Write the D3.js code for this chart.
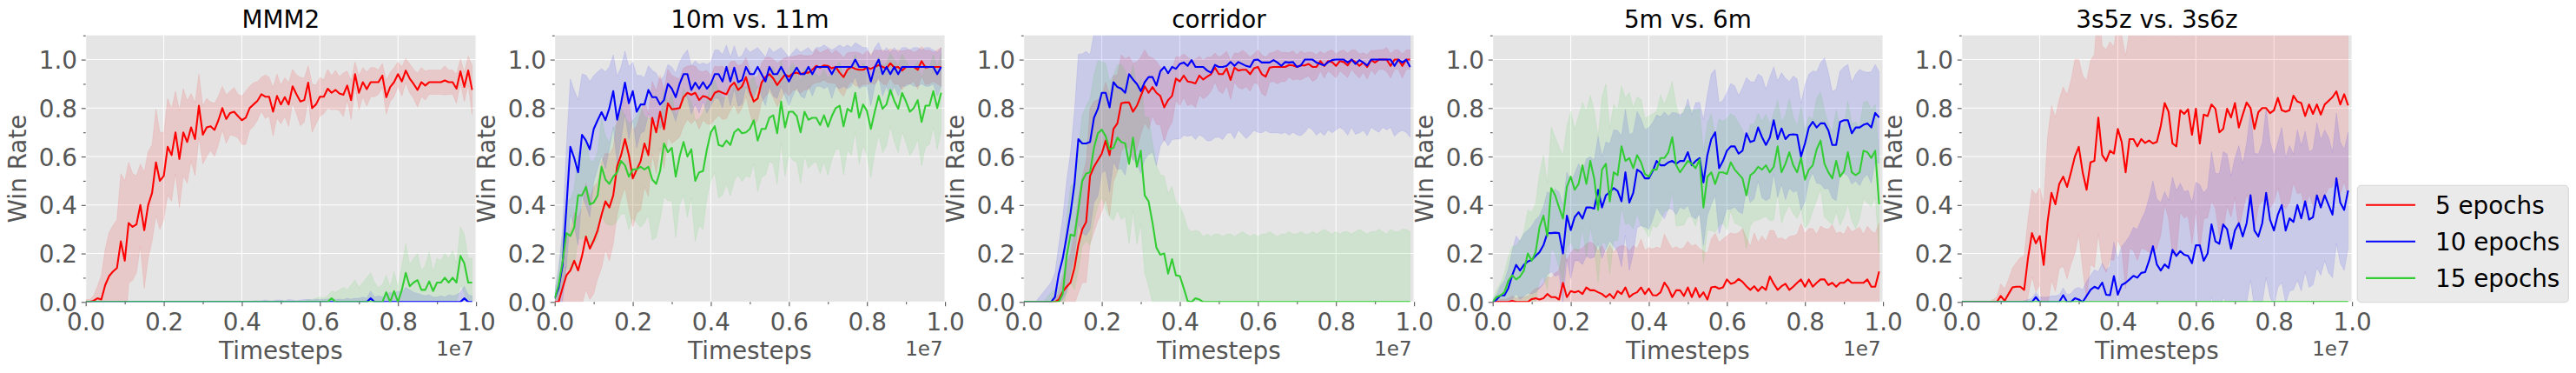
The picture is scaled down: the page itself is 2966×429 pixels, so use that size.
<!DOCTYPE html>
<html><head><meta charset="utf-8">
<script src="https://cdn.jsdelivr.net/npm/d3@7"></script>
<style>body{margin:0;background:#fff;}svg text{font-family:"DejaVu Sans";}</style>
</head><body>
<svg id="chart" width="2966" height="429"></svg>
<script>
// ---------------- data ----------------
const titles = ["MMM2", "10m vs. 11m", "corridor", "5m vs. 6m", "3s5z vs. 3s6z"];
const seriesNames = ["5 epochs", "10 epochs", "15 epochs"];
const seriesColors = ["#ff0000", "#0000ff", "#32cd32"];
const xMajorTicks = [0, 2e6, 4e6, 6e6, 8e6, 1e7];
const xMinorTicks = [1e6, 3e6, 5e6, 7e6, 9e6];
const yMajorTicks = [0, 0.2, 0.4, 0.6, 0.8, 1.0];
const yMinorTicks = [0.1, 0.3, 0.5, 0.7, 0.9, 1.1];
const LOG_INTERVAL = 1e5;            // one evaluation every 100k timesteps
const timesteps = d3.range(100).map(i => i * LOG_INTERVAL);

// MMM2
const mmm2_r_mean = [0,0,0.005,0.015,0.01,0.07,0.107,0.126,0.14,0.25,
0.17,0.326,0.31,0.32,0.40,0.296,0.40,0.45,0.576,0.50,
0.52,0.64,0.606,0.70,0.59,0.70,0.66,0.72,0.672,0.81,
0.69,0.72,0.725,0.71,0.75,0.80,0.755,0.78,0.785,0.767,
0.75,0.76,0.80,0.815,0.83,0.857,0.847,0.847,0.785,0.85,
0.815,0.845,0.815,0.89,0.857,0.827,0.833,0.905,0.80,0.815,
0.847,0.847,0.88,0.863,0.875,0.86,0.855,0.893,0.833,0.94,
0.863,0.907,0.878,0.907,0.907,0.907,0.934,0.845,0.887,0.907,
0.94,0.91,0.955,0.922,0.9,0.875,0.907,0.893,0.907,0.907,
0.907,0.907,0.914,0.907,0.907,0.88,0.952,0.887,0.955,0.875];
const mmm2_r_std = [0.01,0.01,0.02,0.05,0.1,0.15,0.18,0.19,0.2,0.28,
0.33,0.25,0.22,0.2,0.17,0.24,0.22,0.2,0.22,0.2,
0.18,0.2,0.19,0.17,0.2,0.18,0.17,0.14,0.15,0.13,
0.12,0.12,0.1,0.11,0.1,0.09,0.1,0.09,0.1,0.09,
0.1,0.11,0.09,0.09,0.08,0.07,0.09,0.08,0.1,0.09,
0.08,0.08,0.09,0.07,0.08,0.1,0.09,0.07,0.1,0.08,
0.08,0.07,0.08,0.07,0.08,0.07,0.09,0.06,0.08,0.05,
0.07,0.06,0.07,0.06,0.06,0.05,0.05,0.07,0.06,0.06,
0.05,0.06,0.05,0.06,0.06,0.07,0.06,0.06,0.05,0.05,
0.05,0.05,0.06,0.05,0.05,0.06,0.05,0.06,0.06,0.1];
const mmm2_b_mean = [0,0,0,0,0,0,0,0,0,0,
0,0,0,0,0,0,0,0,0,0,
0,0,0,0,0,0,0,0,0,0,
0,0,0,0,0,0,0,0,0,0,
0,0,0,0,0,0,0,0,0,0,
0,0,0,0,0,0,0,0,0,0,
0,0,0,0,0,0,0,0,0,0,
0,0,0,0.015,0,0,0,0,0,0,
0,0,0,0,0,0,0,0,0,0,
0,0,0,0,0,0,0,0.015,0,0];
const mmm2_b_std = [0,0,0,0,0,0,0,0,0,0,
0,0,0,0,0,0,0,0,0,0,
0,0,0,0,0,0,0,0,0,0,
0,0,0,0,0,0,0,0,0,0,
0,0,0,0.005,0.005,0.005,0.008,0.005,0.005,0.008,
0.008,0.005,0.01,0.008,0.005,0.008,0.01,0.01,0.008,0.01,
0.01,0.01,0.012,0.015,0.01,0.012,0.01,0.015,0.012,0.015,
0.015,0.02,0.015,0.03,0.02,0.025,0.02,0.03,0.04,0.035,
0.045,0.04,0.06,0.05,0.04,0.035,0.03,0.025,0.03,0.02,
0.02,0.025,0.02,0.03,0.025,0.03,0.04,0.05,0.03,0.025];
const mmm2_g_mean = [0,0,0,0,0,0,0,0,0,0,
0,0,0,0,0,0,0,0,0,0,
0,0,0,0,0,0,0,0,0,0,
0,0,0,0,0,0,0,0,0,0,
0,0,0,0,0,0,0,0,0,0,
0,0,0,0,0,0,0,0,0,0,
0,0,0,0.015,0,0,0,0,0,0,
0,0,0,0,0,0,0,0.04,0,0.045,
0,0.05,0.12,0.065,0.08,0.09,0.05,0.05,0.085,0.045,
0.08,0.08,0.10,0.08,0.10,0.08,0.19,0.16,0.08,0.08];
const mmm2_g_std = [0,0,0,0,0,0,0,0,0,0,
0,0,0,0,0,0,0,0,0,0,
0,0,0,0,0,0,0,0,0,0,
0,0,0,0,0,0,0,0,0,0,
0,0,0,0,0,0,0,0,0,0,
0,0,0,0,0,0,0.005,0.01,0.01,0.015,
0.02,0.015,0.025,0.03,0.04,0.05,0.06,0.05,0.07,0.09,
0.06,0.08,0.1,0.12,0.08,0.06,0.07,0.07,0.06,0.08,
0.06,0.1,0.12,0.09,0.1,0.11,0.08,0.1,0.12,0.08,
0.1,0.09,0.1,0.1,0.11,0.08,0.12,0.12,0.1,0.1];

// 10m vs. 11m
const m10_r_mean = [0,0,0.057,0.11,0.13,0.17,0.13,0.19,0.27,0.22,
0.254,0.296,0.36,0.415,0.39,0.44,0.56,0.606,0.672,0.606,
0.51,0.546,0.58,0.654,0.606,0.76,0.70,0.785,0.713,0.82,
0.795,0.797,0.80,0.845,0.863,0.855,0.863,0.833,0.85,0.845,
0.833,0.863,0.87,0.863,0.857,0.89,0.905,0.875,0.89,0.928,
0.87,0.827,0.84,0.905,0.928,0.94,0.922,0.895,0.917,0.938,
0.93,0.943,0.946,0.94,0.946,0.946,0.958,0.974,0.967,0.976,
0.974,0.964,0.97,0.946,0.928,0.958,0.97,0.962,0.958,0.958,
0.967,0.962,0.97,0.978,0.97,0.964,0.985,0.967,0.97,0.955,
0.97,0.97,0.97,0.958,0.994,0.967,0.97,0.97,0.97,0.97];
const m10_r_std = [0.01,0.04,0.1,0.14,0.17,0.2,0.22,0.2,0.22,0.21,
0.22,0.2,0.22,0.2,0.22,0.2,0.2,0.18,0.2,0.22,
0.2,0.18,0.2,0.18,0.17,0.15,0.17,0.15,0.16,0.14,
0.14,0.13,0.12,0.12,0.11,0.12,0.11,0.12,0.1,0.11,
0.1,0.11,0.1,0.11,0.1,0.1,0.09,0.1,0.09,0.08,
0.09,0.1,0.09,0.08,0.08,0.07,0.08,0.09,0.08,0.07,
0.08,0.07,0.07,0.08,0.07,0.07,0.06,0.07,0.06,0.06,
0.07,0.06,0.07,0.08,0.08,0.07,0.06,0.07,0.07,0.06,
0.07,0.06,0.07,0.06,0.07,0.07,0.06,0.07,0.07,0.08,
0.07,0.07,0.06,0.08,0.06,0.07,0.07,0.06,0.07,0.08];
const m10_b_mean = [0.015,0.057,0.15,0.39,0.64,0.594,0.535,0.69,0.666,0.63,
0.714,0.75,0.783,0.75,0.80,0.87,0.752,0.82,0.905,0.82,
0.87,0.785,0.815,0.815,0.875,0.845,0.845,0.815,0.833,0.90,
0.88,0.845,0.90,0.94,0.94,0.875,0.905,0.88,0.907,0.88,
0.90,0.94,0.94,0.91,0.97,0.91,0.967,0.907,0.916,0.97,
0.94,0.94,0.97,0.94,0.91,0.97,0.94,0.94,0.97,0.94,
0.91,0.94,0.967,0.94,0.94,0.97,0.94,0.97,0.97,0.97,
0.97,0.94,0.97,0.97,0.97,0.97,0.97,1.0,0.97,0.97,
0.97,0.91,0.97,1.0,0.94,0.97,0.94,0.97,0.94,0.97,
0.97,0.97,0.97,0.97,0.97,0.97,0.97,0.97,0.94,0.97];
const m10_b_std = [0.03,0.08,0.15,0.25,0.28,0.28,0.3,0.25,0.27,0.28,
0.22,0.2,0.18,0.2,0.17,0.15,0.18,0.15,0.13,0.15,
0.12,0.15,0.12,0.11,0.1,0.11,0.1,0.1,0.1,0.08,
0.09,0.1,0.09,0.08,0.1,0.1,0.09,0.1,0.08,0.1,
0.09,0.1,0.1,0.11,0.09,0.1,0.09,0.1,0.1,0.08,
0.09,0.1,0.08,0.09,0.1,0.08,0.09,0.1,0.08,0.09,
0.1,0.09,0.08,0.09,0.1,0.08,0.09,0.08,0.08,0.09,
0.08,0.1,0.08,0.09,0.08,0.09,0.08,0.07,0.09,0.08,
0.08,0.1,0.08,0.07,0.09,0.08,0.09,0.08,0.09,0.08,
0.08,0.07,0.08,0.08,0.07,0.08,0.08,0.07,0.09,0.08];
const m10_g_mean = [0.015,0.07,0.165,0.284,0.272,0.308,0.44,0.44,0.475,0.403,
0.41,0.44,0.558,0.505,0.487,0.517,0.535,0.582,0.564,0.517,
0.547,0.547,0.558,0.547,0.558,0.505,0.487,0.54,0.654,0.618,
0.636,0.517,0.60,0.66,0.60,0.63,0.50,0.535,0.54,0.63,
0.70,0.725,0.648,0.642,0.666,0.648,0.70,0.714,0.696,0.70,
0.714,0.75,0.666,0.714,0.714,0.76,0.77,0.696,0.827,0.72,
0.785,0.785,0.767,0.70,0.785,0.752,0.76,0.76,0.73,0.77,
0.723,0.767,0.80,0.81,0.725,0.797,0.785,0.863,0.76,0.815,
0.788,0.714,0.785,0.85,0.797,0.815,0.875,0.83,0.797,0.863,
0.827,0.785,0.80,0.833,0.743,0.81,0.81,0.87,0.80,0.863];
const m10_g_std = [0.02,0.06,0.1,0.14,0.15,0.16,0.18,0.18,0.2,0.18,
0.17,0.18,0.2,0.18,0.17,0.2,0.2,0.22,0.2,0.22,
0.2,0.22,0.25,0.22,0.2,0.25,0.22,0.2,0.22,0.2,
0.22,0.25,0.2,0.22,0.25,0.2,0.25,0.22,0.24,0.2,
0.2,0.19,0.22,0.2,0.18,0.21,0.2,0.19,0.2,0.18,
0.2,0.18,0.21,0.2,0.19,0.18,0.2,0.21,0.17,0.2,
0.18,0.2,0.19,0.21,0.18,0.2,0.19,0.18,0.2,0.19,
0.2,0.18,0.17,0.18,0.2,0.17,0.18,0.16,0.19,0.17,
0.18,0.2,0.17,0.16,0.18,0.17,0.15,0.17,0.18,0.16,
0.17,0.18,0.17,0.16,0.18,0.17,0.16,0.15,0.17,0.16];

// corridor
const cor_r_mean = [0,0,0,0,0,0,0,0,0,0.01,
0.042,0.063,0.08,0.14,0.236,0.3,0.33,0.52,0.558,0.585,
0.612,0.666,0.606,0.714,0.737,0.82,0.823,0.823,0.785,0.81,
0.85,0.89,0.863,0.887,0.863,0.85,0.803,0.833,0.85,0.922,
0.91,0.934,0.91,0.907,0.902,0.934,0.918,0.93,0.94,0.967,
0.94,0.94,0.964,0.916,0.967,0.955,0.958,0.958,0.94,0.964,
0.97,0.94,0.93,0.967,0.97,0.97,0.97,0.97,0.978,0.976,
0.97,0.976,0.976,0.982,0.97,0.97,0.994,0.974,0.994,0.99,
0.974,0.994,0.99,0.976,1.0,0.99,0.974,0.988,0.97,0.998,
0.988,1.0,1.0,1.0,0.974,1.0,1.0,0.974,1.0,1.0];
const cor_r_std = [0,0,0,0,0,0,0,0,0.01,0.03,
0.06,0.1,0.12,0.15,0.2,0.22,0.25,0.28,0.27,0.25,
0.24,0.24,0.25,0.22,0.2,0.2,0.18,0.19,0.2,0.18,
0.16,0.15,0.15,0.12,0.13,0.12,0.14,0.12,0.11,0.09,
0.1,0.09,0.1,0.09,0.1,0.08,0.08,0.08,0.07,0.06,
0.07,0.08,0.07,0.08,0.06,0.07,0.08,0.07,0.07,0.06,
0.07,0.08,0.08,0.06,0.06,0.07,0.06,0.06,0.05,0.06,
0.05,0.06,0.05,0.05,0.06,0.05,0.04,0.05,0.04,0.05,
0.05,0.04,0.05,0.05,0.04,0.05,0.05,0.04,0.05,0.04,
0.05,0.04,0.04,0.05,0.05,0.04,0.04,0.05,0.04,0.04];
const cor_b_mean = [0,0,0,0,0,0,0,0,0.02,0.117,
0.18,0.27,0.367,0.487,0.672,0.654,0.654,0.66,0.76,0.797,
0.863,0.863,0.803,0.907,0.887,0.88,0.863,0.94,0.918,0.90,
0.87,0.907,0.928,0.928,0.893,0.952,0.97,0.944,0.97,0.962,
0.982,0.988,0.974,0.998,0.97,0.97,0.97,0.955,0.946,0.978,
0.97,0.97,0.974,0.99,0.974,0.99,0.982,0.974,0.97,0.998,
1.0,0.988,0.988,0.988,0.998,0.988,0.974,0.99,0.988,0.99,
0.97,0.976,1.0,1.0,1.0,0.988,0.982,0.976,0.99,0.998,
1.0,1.0,1.0,0.988,1.0,0.982,0.998,0.988,0.976,1.0,
1.0,1.0,1.0,1.0,1.0,0.974,1.0,0.988,1.0,0.97];
const cor_b_std = [0,0,0,0,0.02,0.04,0.06,0.08,0.1,0.12,
0.17,0.23,0.25,0.3,0.35,0.37,0.38,0.36,0.35,0.36,
0.33,0.32,0.35,0.33,0.34,0.33,0.34,0.32,0.33,0.33,
0.34,0.32,0.32,0.31,0.33,0.31,0.3,0.3,0.3,0.29,
0.31,0.3,0.29,0.31,0.3,0.28,0.29,0.29,0.28,0.3,
0.29,0.3,0.28,0.29,0.3,0.28,0.29,0.3,0.28,0.29,
0.3,0.29,0.28,0.29,0.3,0.29,0.28,0.29,0.3,0.29,
0.28,0.29,0.3,0.28,0.29,0.3,0.28,0.29,0.28,0.3,
0.29,0.28,0.29,0.3,0.28,0.29,0.3,0.28,0.29,0.28,
0.29,0.3,0.28,0.29,0.28,0.29,0.3,0.28,0.3,0.29];
const cor_g_mean = [0,0,0,0,0,0,0,0,0,0,
0.033,0.19,0.278,0.272,0.38,0.5,0.53,0.535,0.636,0.696,
0.711,0.684,0.63,0.636,0.678,0.66,0.654,0.57,0.678,0.558,
0.624,0.44,0.415,0.326,0.224,0.195,0.20,0.117,0.177,0.11,
0.107,0.057,0.004,0,0.015,0.01,0,0,0,0,
0,0,0,0,0,0,0,0,0,0,
0,0,0,0,0,0,0,0,0,0,
0,0,0,0,0,0,0,0,0,0,
0,0,0,0,0,0,0,0,0,0,
0,0,0,0,0,0,0,0,0,0];
const cor_g_std = [0,0,0,0,0,0,0.02,0.04,0.05,0.06,
0.08,0.15,0.2,0.22,0.25,0.27,0.28,0.3,0.3,0.3,
0.28,0.3,0.28,0.3,0.3,0.32,0.3,0.33,0.3,0.32,
0.3,0.32,0.35,0.33,0.34,0.33,0.32,0.33,0.3,0.3,
0.29,0.3,0.3,0.29,0.28,0.28,0.27,0.28,0.27,0.28,
0.28,0.27,0.28,0.28,0.27,0.28,0.29,0.28,0.27,0.28,
0.27,0.28,0.28,0.29,0.28,0.27,0.28,0.28,0.29,0.28,
0.28,0.29,0.28,0.28,0.29,0.28,0.29,0.3,0.29,0.28,
0.29,0.28,0.29,0.29,0.28,0.29,0.3,0.29,0.28,0.29,
0.29,0.3,0.29,0.28,0.3,0.29,0.29,0.3,0.3,0.29];

// 5m vs. 6m
const m5_r_mean = [0,0,0,0,0,0.005,0,0,0,0,
0.012,0.015,0.01,0.015,0.033,0.02,0.02,0.01,0.079,0.02,
0.045,0.04,0.045,0.033,0.06,0.048,0.048,0.04,0.033,0.02,
0.033,0.015,0.045,0.033,0.06,0.02,0.033,0.04,0.06,0.033,
0.055,0.028,0.027,0.04,0.08,0.057,0.02,0.048,0.048,0.025,
0.06,0.02,0.058,0.02,0.04,0.01,0.06,0.063,0.055,0.06,
0.093,0.075,0.08,0.095,0.083,0.065,0.05,0.065,0.045,0.063,
0.05,0.105,0.075,0.05,0.065,0.075,0.05,0.063,0.079,0.093,
0.063,0.093,0.063,0.079,0.093,0.093,0.07,0.079,0.063,0.079,
0.079,0.093,0.079,0.079,0.079,0.079,0.093,0.063,0.063,0.126];
const m5_r_std = [0.005,0.005,0.01,0.01,0.015,0.02,0.015,0.02,0.02,0.025,
0.03,0.04,0.05,0.06,0.07,0.08,0.1,0.12,0.14,0.15,
0.16,0.18,0.17,0.19,0.18,0.2,0.19,0.17,0.2,0.18,
0.2,0.19,0.18,0.2,0.17,0.19,0.2,0.18,0.2,0.18,
0.17,0.19,0.2,0.18,0.2,0.19,0.2,0.18,0.17,0.2,
0.19,0.21,0.18,0.2,0.17,0.19,0.2,0.22,0.19,0.2,
0.18,0.21,0.2,0.19,0.22,0.2,0.18,0.22,0.2,0.21,
0.2,0.19,0.22,0.21,0.2,0.18,0.22,0.21,0.2,0.23,
0.22,0.21,0.24,0.2,0.22,0.21,0.23,0.24,0.22,0.21,
0.2,0.22,0.21,0.22,0.23,0.2,0.22,0.23,0.22,0.2];
const m5_b_mean = [0,0.01,0.027,0.027,0.057,0.11,0.153,0.13,0.153,0.167,
0.173,0.19,0.206,0.234,0.284,0.284,0.286,0.284,0.20,0.356,
0.296,0.35,0.37,0.344,0.39,0.39,0.385,0.463,0.39,0.44,
0.453,0.47,0.458,0.415,0.535,0.41,0.45,0.546,0.535,0.51,
0.51,0.54,0.582,0.564,0.564,0.576,0.582,0.57,0.582,0.582,
0.618,0.564,0.582,0.594,0.493,0.606,0.672,0.70,0.552,0.582,
0.624,0.642,0.642,0.612,0.624,0.696,0.66,0.666,0.72,0.68,
0.648,0.678,0.75,0.672,0.716,0.672,0.69,0.692,0.69,0.60,
0.654,0.72,0.743,0.72,0.737,0.737,0.708,0.648,0.648,0.743,
0.75,0.75,0.696,0.72,0.72,0.731,0.737,0.72,0.78,0.761];
const m5_b_std = [0.01,0.02,0.04,0.06,0.08,0.1,0.12,0.12,0.13,0.13,
0.14,0.15,0.15,0.16,0.17,0.16,0.18,0.17,0.2,0.18,
0.2,0.18,0.2,0.19,0.2,0.21,0.2,0.22,0.21,0.22,
0.2,0.24,0.25,0.27,0.26,0.28,0.25,0.24,0.22,0.2,
0.21,0.2,0.19,0.2,0.22,0.19,0.2,0.21,0.19,0.2,
0.22,0.21,0.24,0.23,0.26,0.25,0.27,0.26,0.27,0.25,
0.24,0.26,0.25,0.24,0.26,0.23,0.25,0.24,0.22,0.25,
0.23,0.25,0.22,0.24,0.23,0.25,0.22,0.24,0.23,0.22,
0.24,0.22,0.21,0.23,0.25,0.27,0.24,0.22,0.23,0.21,
0.22,0.23,0.21,0.22,0.24,0.22,0.21,0.23,0.2,0.19];
const m5_g_mean = [0,0.021,0.027,0.04,0.087,0.11,0.093,0.105,0.13,0.2,
0.17,0.206,0.308,0.356,0.272,0.47,0.44,0.39,0.344,0.475,
0.517,0.463,0.487,0.564,0.487,0.582,0.51,0.38,0.546,0.57,
0.415,0.535,0.523,0.642,0.582,0.594,0.552,0.606,0.576,0.528,
0.517,0.546,0.546,0.594,0.594,0.618,0.68,0.564,0.535,0.558,
0.582,0.57,0.552,0.588,0.39,0.517,0.535,0.487,0.535,0.535,
0.528,0.576,0.546,0.528,0.51,0.44,0.523,0.535,0.558,0.546,
0.564,0.535,0.558,0.642,0.535,0.57,0.618,0.564,0.535,0.594,
0.505,0.546,0.564,0.63,0.666,0.57,0.535,0.51,0.582,0.517,
0.54,0.618,0.535,0.523,0.535,0.624,0.618,0.594,0.624,0.403];
const m5_g_std = [0.01,0.03,0.05,0.08,0.1,0.12,0.14,0.15,0.16,0.18,
0.2,0.2,0.22,0.25,0.22,0.25,0.24,0.25,0.26,0.25,
0.27,0.25,0.28,0.26,0.3,0.27,0.28,0.3,0.3,0.33,
0.3,0.28,0.27,0.25,0.26,0.27,0.25,0.24,0.26,0.23,
0.25,0.23,0.24,0.26,0.22,0.24,0.23,0.25,0.22,0.24,
0.23,0.22,0.24,0.21,0.23,0.22,0.24,0.2,0.22,0.21,
0.23,0.2,0.22,0.21,0.2,0.22,0.21,0.2,0.22,0.2,
0.21,0.2,0.22,0.19,0.21,0.2,0.22,0.2,0.19,0.21,
0.2,0.22,0.19,0.21,0.2,0.22,0.2,0.19,0.21,0.2,
0.19,0.21,0.2,0.22,0.19,0.2,0.21,0.2,0.19,0.2];

// 3s5z vs. 3s6z
const s3_r_mean = [0,0,0,0,0,0,0,0,0,0,
0.025,0.005,0.033,0.06,0.063,0.063,0.05,0.183,0.284,0.242,
0.272,0.153,0.33,0.45,0.403,0.487,0.517,0.475,0.535,0.60,
0.64,0.535,0.463,0.576,0.582,0.761,0.606,0.582,0.624,0.612,
0.714,0.66,0.535,0.672,0.672,0.642,0.672,0.656,0.666,0.654,
0.66,0.726,0.821,0.785,0.654,0.642,0.791,0.776,0.795,0.69,
0.797,0.654,0.773,0.767,0.815,0.797,0.70,0.714,0.797,0.761,
0.821,0.72,0.773,0.823,0.80,0.714,0.783,0.80,0.80,0.779,
0.791,0.842,0.791,0.785,0.791,0.851,0.827,0.821,0.767,0.815,
0.776,0.815,0.773,0.815,0.83,0.845,0.869,0.815,0.857,0.811];
const s3_r_std = [0,0,0,0,0,0,0,0,0.01,0.02,
0.05,0.05,0.06,0.08,0.1,0.12,0.14,0.16,0.18,0.2,
0.2,0.25,0.35,0.36,0.36,0.35,0.37,0.38,0.38,0.4,
0.36,0.4,0.45,0.42,0.44,0.48,0.45,0.46,0.45,0.44,
0.46,0.44,0.48,0.45,0.46,0.47,0.45,0.44,0.46,0.45,
0.44,0.45,0.42,0.44,0.46,0.45,0.42,0.43,0.44,0.45,
0.42,0.45,0.43,0.42,0.4,0.41,0.43,0.42,0.4,0.41,
0.39,0.42,0.4,0.38,0.4,0.42,0.39,0.38,0.4,0.39,
0.38,0.37,0.39,0.4,0.38,0.36,0.38,0.37,0.39,0.37,
0.38,0.36,0.37,0.38,0.36,0.37,0.35,0.37,0.36,0.38];
const s3_b_mean = [0,0,0,0,0,0,0,0,0,0,
0,0,0,0,0,0,0,0,0,0.02,
0,0,0,0,0,0,0.028,0,0,0.015,
0.01,0,0.025,0.05,0.063,0.055,0.08,0.03,0.028,0.107,
0.03,0.07,0.079,0.093,0.108,0.1,0.12,0.123,0.17,0.23,
0.155,0.13,0.155,0.14,0.215,0.19,0.21,0.195,0.19,0.16,
0.234,0.234,0.17,0.2,0.32,0.25,0.24,0.32,0.3,0.22,
0.295,0.325,0.27,0.325,0.44,0.295,0.27,0.325,0.45,0.34,
0.295,0.36,0.4,0.295,0.345,0.33,0.4,0.345,0.415,0.34,
0.35,0.44,0.39,0.44,0.4,0.36,0.51,0.41,0.38,0.46];
const s3_b_std = [0,0,0,0,0,0,0,0,0,0,
0,0,0,0,0,0,0.005,0.01,0.015,0.02,
0.02,0.02,0.02,0.025,0.025,0.03,0.03,0.03,0.035,0.04,
0.05,0.05,0.06,0.06,0.07,0.07,0.08,0.1,0.12,0.14,
0.15,0.16,0.17,0.18,0.2,0.2,0.22,0.25,0.26,0.27,
0.27,0.28,0.3,0.28,0.3,0.27,0.28,0.26,0.27,0.25,
0.26,0.25,0.28,0.27,0.3,0.28,0.29,0.3,0.31,0.3,
0.3,0.32,0.3,0.33,0.35,0.32,0.34,0.33,0.35,0.32,
0.31,0.3,0.32,0.3,0.3,0.28,0.31,0.3,0.29,0.28,
0.28,0.3,0.28,0.27,0.28,0.26,0.27,0.25,0.25,0.24];
const s3_g_mean = [0,0,0,0,0,0,0,0,0,0,
0,0,0,0,0,0,0,0,0,0,
0,0,0,0,0,0,0,0,0,0,
0,0,0,0,0,0,0,0,0,0,
0,0,0,0,0,0,0,0,0,0,
0,0,0,0,0,0,0,0,0,0,
0,0,0,0,0,0,0,0,0,0,
0,0,0,0,0,0,0,0,0,0,
0,0,0,0,0,0,0,0,0,0,
0,0,0,0,0,0,0,0,0,0];
const s3_g_std = s3_g_mean.slice();

// ---------------- chart ----------------
const panels = [
  {means: [mmm2_r_mean, mmm2_b_mean, mmm2_g_mean], stds: [mmm2_r_std, mmm2_b_std, mmm2_g_std]},
  {means: [m10_r_mean, m10_b_mean, m10_g_mean], stds: [m10_r_std, m10_b_std, m10_g_std]},
  {means: [cor_r_mean, cor_b_mean, cor_g_mean], stds: [cor_r_std, cor_b_std, cor_g_std]},
  {means: [m5_r_mean, m5_b_mean, m5_g_mean], stds: [m5_r_std, m5_b_std, m5_g_std]},
  {means: [s3_r_mean, s3_b_mean, s3_g_mean], stds: [s3_r_std, s3_b_std, s3_g_std]}
];

const svg = d3.select("#chart");
const FONT = "DejaVu Sans";
const FS = 27.8;
const TXT = "#555555";
const PW = 449.4, TOP = 40.7, BOT = 347.3, LEFT0 = 98.7, PSTEP = 540;
const defs = svg.append("defs");

panels.forEach((p, k) => {
  const L = LEFT0 + k * PSTEP;
  const x = d3.scaleLinear().domain([0, 1e7]).range([L, L + PW]);
  const y = d3.scaleLinear().domain([0, 1.1]).range([BOT, TOP]);
  const g = svg.append("g");

  g.append("rect").attr("x", L).attr("y", TOP).attr("width", PW).attr("height", BOT - TOP).attr("fill", "#e5e5e5");

  const grid = g.append("g").attr("stroke", "#ffffff").attr("stroke-width", 1.1);
  grid.selectAll("line.gx").data(xMajorTicks).join("line").attr("class", "gx")
    .attr("x1", d => x(d)).attr("x2", d => x(d)).attr("y1", TOP).attr("y2", BOT);
  grid.selectAll("line.gy").data(yMajorTicks).join("line").attr("class", "gy")
    .attr("x1", L).attr("x2", L + PW).attr("y1", d => y(d)).attr("y2", d => y(d));

  defs.append("clipPath").attr("id", "clip" + k).append("rect")
    .attr("x", L).attr("y", TOP).attr("width", PW).attr("height", BOT - TOP);
  const plot = g.append("g").attr("clip-path", `url(#clip${k})`);

  p.means.forEach((m, i) => {
    const s = p.stds[i];
    const area = d3.area()
      .x((d, j) => x(timesteps[j]))
      .y0((d, j) => y(m[j] - s[j]))
      .y1((d, j) => y(m[j] + s[j]));
    plot.append("path").datum(m).attr("d", area)
      .attr("fill", seriesColors[i]).attr("fill-opacity", 0.12)
      .attr("stroke", seriesColors[i]).attr("stroke-opacity", 0.08).attr("stroke-width", 1);
  });
  p.means.forEach((m, i) => {
    const line = d3.line().x((d, j) => x(timesteps[j])).y(d => y(d));
    plot.append("path").datum(m).attr("d", line)
      .attr("fill", "none").attr("stroke", seriesColors[i]).attr("stroke-width", 2.1)
      .attr("stroke-linejoin", "round").attr("stroke-linecap", "butt");
  });

  // axes
  const xa = g.append("g").attr("transform", `translate(0,${BOT})`)
    .call(d3.axisBottom(x).tickValues(xMajorTicks).tickFormat(d => (d / 1e7).toFixed(1)).tickSize(4.9).tickPadding(7.8));
  const xm = g.append("g").attr("transform", `translate(0,${BOT})`)
    .call(d3.axisBottom(x).tickValues(xMinorTicks).tickFormat("").tickSize(2.8));
  const ya = g.append("g").attr("transform", `translate(${L},0)`)
    .call(d3.axisLeft(y).tickValues(yMajorTicks).tickFormat(d3.format(".1f")).tickSize(4.9).tickPadding(4.8));
  const ym = g.append("g").attr("transform", `translate(${L},0)`)
    .call(d3.axisLeft(y).tickValues(yMinorTicks).tickFormat("").tickSize(2.8));
  [xa, xm, ya, ym].forEach(a => {
    a.select(".domain").remove();
    a.attr("color", TXT).attr("font-family", FONT).attr("font-size", FS);
    a.selectAll(".tick line").attr("stroke-width", 1.1);
  });
  ya.selectAll(".tick text").attr("dy", "0.36em");

  // titles & labels
  g.append("text").attr("x", L + PW / 2).attr("y", 31.7).attr("text-anchor", "middle")
    .attr("font-size", FS).attr("fill", "#000").text(titles[k]);
  g.append("text").attr("x", L + PW / 2).attr("y", 413.3).attr("text-anchor", "middle")
    .attr("font-size", FS).attr("fill", TXT).text("Timesteps");
  g.append("text").attr("transform", `translate(${L - 68.7},${(TOP + BOT) / 2}) rotate(-90)`)
    .attr("text-anchor", "middle").attr("font-size", FS).attr("fill", TXT).text("Win Rate");
  g.append("text").attr("x", L + PW - 2.5).attr("y", 409.3).attr("text-anchor", "end")
    .attr("font-size", 23).attr("fill", TXT).text("1e7");
});

// legend
const lg = svg.append("g");
lg.append("rect").attr("x", 2714.3).attr("y", 213.3).attr("width", 243).attr("height", 134.4)
  .attr("rx", 4.5).attr("fill", "#eaeaea").attr("stroke", "#d6d6d6").attr("stroke-width", 1.1);
seriesNames.forEach((name, i) => {
  const ly = 235.7 + i * 42.1;
  lg.append("line").attr("x1", 2724).attr("x2", 2781).attr("y1", ly).attr("y2", ly)
    .attr("stroke", seriesColors[i]).attr("stroke-width", 2.1);
  lg.append("text").attr("x", 2804).attr("y", ly + 10.1).attr("font-size", FS).attr("fill", "#000").text(name);
});
</script>
</body></html>
